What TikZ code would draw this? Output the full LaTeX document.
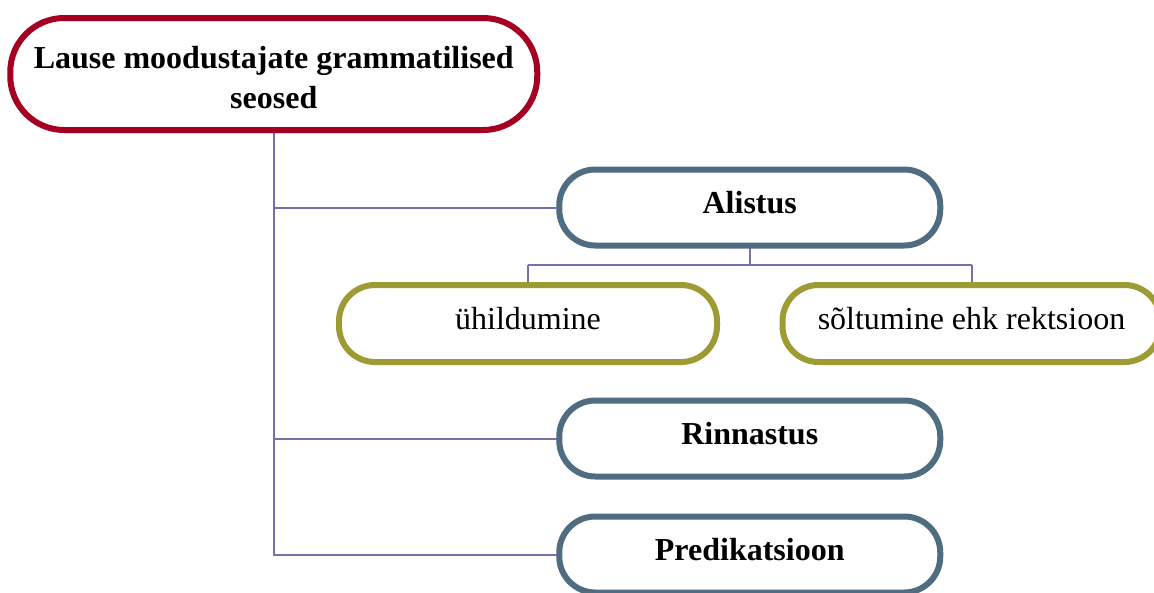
\documentclass[tikz,border=0pt]{standalone}
\usepackage{fontspec}
\setmainfont{Liberation Serif}
\usetikzlibrary{calc,backgrounds}
\definecolor{rootred}{RGB}{165,0,33}
\definecolor{boxblue}{RGB}{79,108,128}
\definecolor{boxolive}{RGB}{157,155,51}
\definecolor{connpurple}{RGB}{118,113,170}
\tikzset{
  basebox/.style={draw, fill=white, line width=6pt, inner sep=0pt, outer sep=0pt,
    font=\fontsize{32}{40}\selectfont, text height=22pt, text depth=11pt},
  rootbox/.style={basebox, draw=rootred, rounded corners=54pt, minimum width=527pt,
    minimum height=112pt, align=center, font=\fontsize{32}{40}\selectfont\bfseries,
    text height=, text depth=},
  bluebox/.style={basebox, draw=boxblue, rounded corners=36pt, minimum width=381pt,
    minimum height=76pt, font=\fontsize{32}{40}\selectfont\bfseries},
  olivebox/.style={basebox, draw=boxolive, rounded corners=36pt, minimum width=378pt,
    minimum height=77pt},
  conn/.style={draw=connpurple, line width=2pt}
}
\begin{document}
\begin{tikzpicture}[x=1pt,y=-1pt]
\useasboundingbox (0,0) rectangle (1154,592);
\coordinate (rootpos) at (273.75,74);
\coordinate (alipos) at (749.75,207.5);
\coordinate (rinpos) at (749.75,438.5);
\coordinate (predpos) at (749.75,554.5);
\coordinate (uhipos) at (528,323.5);
\coordinate (soltpos) at (971.5,323.5);

\node[rootbox] (root) at (rootpos) {\rule{0pt}{30pt}Lause moodustajate grammatilised\\seosed};
\node[bluebox] (alistus) at (alipos) {Alistus};
\node[olivebox] (uhild) at (uhipos) {ühildumine};
\node[olivebox] (soltum) at (soltpos) {sõltumine ehk rektsioon};
\node[bluebox] (rinn) at (rinpos) {Rinnastus};
\node[bluebox] (pred) at (predpos) {Predikatsioon};

\begin{scope}[on background layer]
\draw[conn] (root.south) |- (pred.west);
\draw[conn] (root.south |- alistus.west) -- (alistus.west);
\draw[conn] (root.south |- rinn.west) -- (rinn.west);
\coordinate (fork) at ($(alistus.south)!0.5!(alistus.south |- uhild.north)$);
\draw[conn] (alistus.south) -- (fork);
\draw[conn] (fork -| uhild.north) -- (fork -| soltum.north);
\draw[conn] (fork -| uhild.north) -- (uhild.north);
\draw[conn] (fork -| soltum.north) -- (soltum.north);
\end{scope}
\end{tikzpicture}
\end{document}
